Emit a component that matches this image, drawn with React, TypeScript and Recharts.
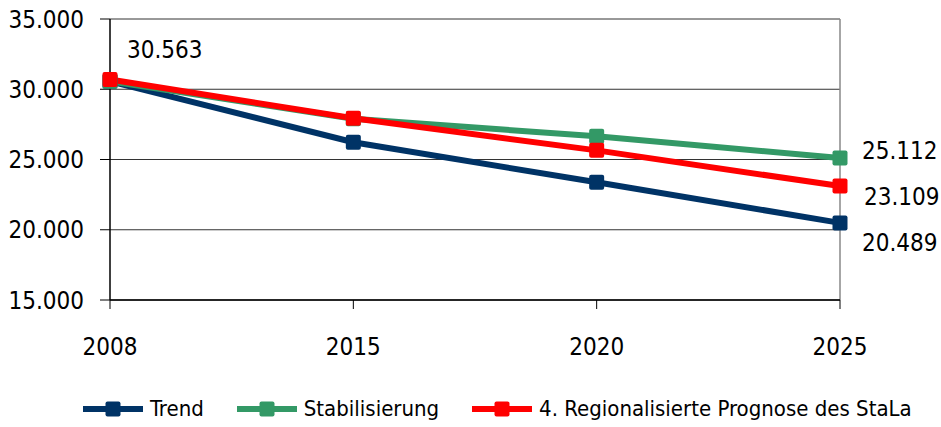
import React from 'react';
import { LineChart, Line, XAxis, YAxis, CartesianGrid, Legend, ReferenceLine, LabelList } from 'recharts';

const years = ['2008', '2015', '2020', '2025'];
const trend = [30563, 26230, 23380, 20489];
const stabilisierung = [30563, 27900, 26650, 25112];
const stala = [30700, 27930, 25650, 23109];
const yTicks = [15000, 20000, 25000, 30000, 35000];

const FONT = "'DejaVu Sans', sans-serif";
const STRETCH = 'condensed';

const data = years.map((year, i) => ({
  year,
  trend: trend[i],
  stabil: stabilisierung[i],
  stala: stala[i],
}));

const fmt = (v: number) => v.toLocaleString('de-DE');

// which points carry a value label, and where it sits relative to the point
const series = [
  { key: 'trend', name: 'Trend', color: '#003366', labels: { 3: { dx: 22, dy: 19 } } },
  { key: 'stabil', name: 'Stabilisierung', color: '#339966', labels: { 0: { dx: 17, dy: -32 }, 3: { dx: 22, dy: -8 } } },
  { key: 'stala', name: '4. Regionalisierte Prognose des StaLa', color: '#FF0000', labels: { 3: { dx: 24, dy: 10 } } },
];

const tickStyle = { fontSize: 24, fontFamily: FONT, fontStretch: STRETCH, fill: '#000' };

const SquareDot = (color: string) => (props: any) => {
  const { cx, cy } = props;
  if (cx == null || cy == null) return null;
  return <rect x={cx - 7.5} y={cy - 7.5} width={15} height={15} rx={2} fill={color} />;
};

const makeLabel = (labels: Record<number, { dx: number; dy: number }>) => (props: any) => {
  const { x, y, value, index } = props;
  const pos = labels[index];
  if (!pos) return null;
  return (
    <text x={x + pos.dx} y={y + pos.dy} dy="0.36em" textAnchor="start" style={tickStyle}>
      {fmt(value)}
    </text>
  );
};

const LegendContent = () => (
  <div
    style={{
      display: 'flex',
      alignItems: 'center',
      height: 36,
      paddingLeft: 83,
      fontFamily: FONT,
      fontStretch: STRETCH,
      fontSize: 22,
      color: '#000',
      whiteSpace: 'nowrap',
    }}
  >
    {series.map((s) => (
      <div key={s.key} style={{ display: 'flex', alignItems: 'center', marginRight: 33, flexShrink: 0 }}>
        <svg width={60} height={16} style={{ marginRight: 7 }}>
          <line x1={0} y1={8} x2={60} y2={8} stroke={s.color} strokeWidth={6} strokeLinecap="round" />
          <rect x={22.5} y={0.5} width={15} height={15} rx={2} fill={s.color} />
        </svg>
        <span style={{ lineHeight: '36px' }}>{s.name}</span>
      </div>
    ))}
  </div>
);

export default function App() {
  return (
    <div style={{ position: 'absolute', left: 0, top: 0, width: 941, height: 427, background: '#fff' }}>
      <LineChart width={941} height={427} data={data} margin={{ top: 19, right: 101, left: 0, bottom: 0 }}>
        <CartesianGrid vertical={false} stroke="#333" strokeWidth={1} />
        <XAxis
          dataKey="year"
          height={91}
          tickSize={9}
          tickMargin={29}
          axisLine={{ stroke: '#000', strokeWidth: 1.5 }}
          tickLine={{ stroke: '#000' }}
          tick={tickStyle}
        />
        <YAxis
          width={110}
          domain={[15000, 35000]}
          ticks={yTicks}
          tickFormatter={fmt}
          tickSize={10}
          tickMargin={16}
          axisLine={{ stroke: '#000', strokeWidth: 1.5 }}
          tickLine={{ stroke: '#000' }}
          tick={tickStyle}
        />
        <ReferenceLine x="2025" stroke="#888" strokeWidth={1.5} />
        <Legend verticalAlign="bottom" content={<LegendContent />} />
        {series.map((s) => (
          <Line
            key={s.key}
            type="linear"
            dataKey={s.key}
            name={s.name}
            stroke={s.color}
            strokeWidth={6}
            dot={SquareDot(s.color)}
            activeDot={false}
            isAnimationActive={false}
          >
            <LabelList dataKey={s.key} content={makeLabel(s.labels)} />
          </Line>
        ))}
      </LineChart>
    </div>
  );
}
